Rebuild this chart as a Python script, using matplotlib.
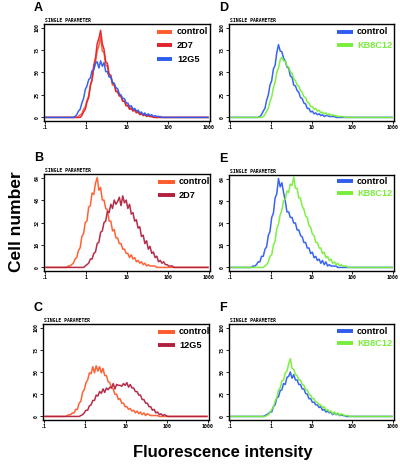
import numpy as np
import matplotlib
matplotlib.use('Agg')
import matplotlib.pyplot as plt
from matplotlib.lines import Line2D
from matplotlib.ticker import LogLocator, FixedLocator, NullFormatter

# ---------------- data (counts per log channel, 24 channels/decade, 0.1..1000) ----------------
N_CH = 96
chan = 10 ** (-1 + (np.arange(N_CH) + 0.5) / 24)

def full(start, vals):
    arr = [0] * start + list(vals)
    return arr + [0] * (N_CH - len(arr))

A_control = full(18, [0,1,3,4,9,12,19,24,35,42,55,62,74,80,90,74,72,58,57,46,45,36,36,29,28,24,23,18,18,13,14,10,11,8,9,6,7,4,5,3,3,2,2,1,1,1])
A_2D7 = full(20, [0,2,6,9,17,22,36,42,58,66,82,88,97,82,76,62,60,48,47,38,37,29,29,24,24,18,18,13,13,9,10,7,8,5,6,3,4,2,3,1,2,1,1])
A_12G5 = full(17, [1,3,7,9,16,21,31,35,42,44,52,53,60,62,55,63,57,61,51,51,45,45,39,38,33,32,26,25,21,21,16,16,12,13,9,10,7,8,5,6,3,5,2,4,2,3,1,2,1,1,1])

D_control = full(16, [0,1,3,7,10,19,25,36,41,54,58,72,81,74,73,66,63,56,55,46,45,36,35,30,28,22,21,16,15,10,10,6,7,4,5,3,4,2,3,1,2,2,1,1,1,1])
D_KB8C12 = full(19, [1,3,7,10,18,23,33,39,50,55,64,67,63,63,57,56,51,49,43,41,36,35,30,28,23,22,17,16,12,12,9,10,7,8,5,6,4,5,3,4,2,3,2,2,1,1,1,1])

B_control = full(12, [0,1,1,2,3,6,7,12,14,22,24,32,33,43,44,53,52,60,64,55,57,48,48,42,41,33,33,26,27,21,21,17,17,13,13,10,10,7,9,6,7,4,5,3,4,2,3,1,2,1,1,1,1])
B_2D7 = full(22, [0,1,2,3,6,6,10,11,17,18,25,26,32,33,40,39,45,42,48,45,47,50,44,51,46,48,42,45,38,39,33,34,28,29,22,23,17,19,13,15,10,11,7,8,4,5,3,4,2,2,1,1,1])

E_control = full(13, [1,1,2,4,4,8,8,13,15,23,26,36,39,50,53,64,58,61,54,48,40,40,36,36,32,32,27,27,23,22,18,18,14,14,10,11,7,8,5,6,3,5,2,4,1,2,1,1,1,1])
E_KB8C12 = full(20, [1,2,4,8,9,16,19,28,31,38,41,48,49,55,54,60,59,65,57,57,50,50,44,42,37,36,30,29,24,23,18,18,14,14,10,11,7,8,5,6,3,4,2,3,1,2,1,1,1])

C_control = full(13, [1,2,2,4,4,8,8,15,17,27,30,38,41,49,48,56,49,57,51,56,49,54,46,46,39,38,32,31,25,25,19,20,15,15,11,11,8,9,6,7,4,6,3,5,2,4,1,3,2,1,1,1,1,1])
C_12G5 = full(21, [1,2,4,7,7,12,13,18,18,24,23,28,26,31,27,32,30,33,32,37,31,36,35,35,34,37,35,38,33,36,32,32,28,28,24,24,19,19,15,15,11,11,7,8,4,5,2,3,1,2,1])

F_control = full(20, [1,2,3,5,5,11,13,21,22,29,30,37,36,44,45,50,43,47,41,41,36,36,31,31,26,25,20,20,16,16,13,13,10,11,7,8,5,6,4,5,2,4,2,3,1,2,1,1])
F_KB8C12 = full(21, [1,2,4,8,10,17,21,30,32,40,41,49,51,59,65,54,53,47,46,41,41,36,35,30,30,25,24,20,20,16,16,13,13,10,11,7,8,5,6,3,5,2,4,1,3,2,1,1,1])

x_ticks = [0.1, 1, 10, 100, 1000]
x_ticklabels = ['.1', '1', '10', '100', '1000']
y100_ticks = [0, 25, 50, 75, 100]
y64_ticks = [0, 16, 32, 48, 64]

# ---------------- colours ----------------
ORANGE = '#ff5a2c'
RED = '#e3222c'
CRIMSON = '#b3203f'
BLUE = '#2d5cf0'
GREEN = '#78ee3c'

W, H = 400, 468
fig = plt.figure(figsize=(W / 100, H / 100), dpi=100)
fig.patch.set_facecolor('white')

def add_ax(l, t, r, b):
    return fig.add_axes([l / W, 1 - b / H, (r - l) / W, (b - t) / H])

panels = [
    ('A', (44, 24, 210, 121), [('control', A_control, ORANGE), ('2D7', A_2D7, RED), ('12G5', A_12G5, BLUE)],
     y100_ticks, (157, 172), 177, [32, 45, 59]),
    ('D', (229, 24, 394, 121), [('control', D_control, BLUE), ('KB8C12', D_KB8C12, GREEN)],
     y100_ticks, (337, 353), 357, [32, 45]),
    ('B', (44, 174, 210, 271), [('control', B_control, ORANGE), ('2D7', B_2D7, CRIMSON)],
     y64_ticks, (158, 175), 179, [182, 195]),
    ('E', (229, 175, 394, 271), [('control', E_control, BLUE), ('KB8C12', E_KB8C12, GREEN)],
     y64_ticks, (337, 353), 357, [181, 193]),
    ('C', (43, 324, 209, 420), [('control', C_control, ORANGE), ('12G5', C_12G5, CRIMSON)],
     y100_ticks, (158, 175), 179, [332, 345]),
    ('F', (229, 324, 394, 420), [('control', F_control, BLUE), ('KB8C12', F_KB8C12, GREEN)],
     y100_ticks, (337, 353), 357, [331, 343]),
]

tick_font = dict(family='DejaVu Sans Mono', size=3.6, weight='bold')
label_family = ['Liberation Sans', 'DejaVu Sans']

for letter, box, series, yt, lx, tx, rows in panels:
    ax = add_ax(*box)
    for name, vals, col in series:
        ax.plot(chan, vals, color=col, lw=1.1, alpha=0.95)
    ax.set_xscale('log')
    ax.set_xlim(10 ** -1.03, 10 ** 3.03)
    ymax = yt[-1]
    ax.set_ylim(-0.04 * ymax, 1.04 * ymax)
    ax.xaxis.set_major_locator(FixedLocator(x_ticks))
    ax.xaxis.set_minor_locator(LogLocator(base=10, subs=np.arange(2, 10)))
    ax.xaxis.set_minor_formatter(NullFormatter())
    ax.set_xticklabels(x_ticklabels, fontdict=tick_font)
    ax.set_yticks(yt)
    ax.set_yticklabels([str(v) for v in yt], fontdict=tick_font, rotation=90, va='center')
    ax.tick_params(axis='both', which='major', direction='out', length=2, width=0.6, pad=1.2, colors='black')
    ax.tick_params(axis='x', which='minor', direction='out', length=1.3, width=0.5)
    for sp in ax.spines.values():
        sp.set_linewidth(1.0)
        sp.set_color('black')
    l, t, r, b = box
    fig.text((l + 1) / W, 1 - (t - 1) / H, 'SINGLE PARAMETER', fontsize=3.4, family='DejaVu Sans Mono',
             weight='bold', ha='left', va='bottom')
    fig.text((l - 10) / W, 1 - (t - 16) / H, letter, fontsize=9, weight='bold', family=label_family,
             ha='left', va='center')
    for (name, vals, col), ry in zip(series, rows):
        fig.add_artist(Line2D([lx[0] / W, lx[1] / W], [1 - ry / H, 1 - ry / H], color=col, lw=2.8,
                              solid_capstyle='butt'))
        fig.text(tx / W, 1 - ry / H, name, fontsize=6.6, weight='bold', family=label_family,
                 ha='left', va='center', color='black' if col != GREEN else GREEN)

fig.text(17 / W, 1 - 222 / H, 'Cell number', rotation=90, fontsize=12.5, weight='bold',
         family=label_family, ha='center', va='center')
fig.text(223 / W, 1 - 453 / H, 'Fluorescence intensity', fontsize=12, weight='bold',
         family=label_family, ha='center', va='center')

fig.savefig('out.png', dpi=100, facecolor='white')
